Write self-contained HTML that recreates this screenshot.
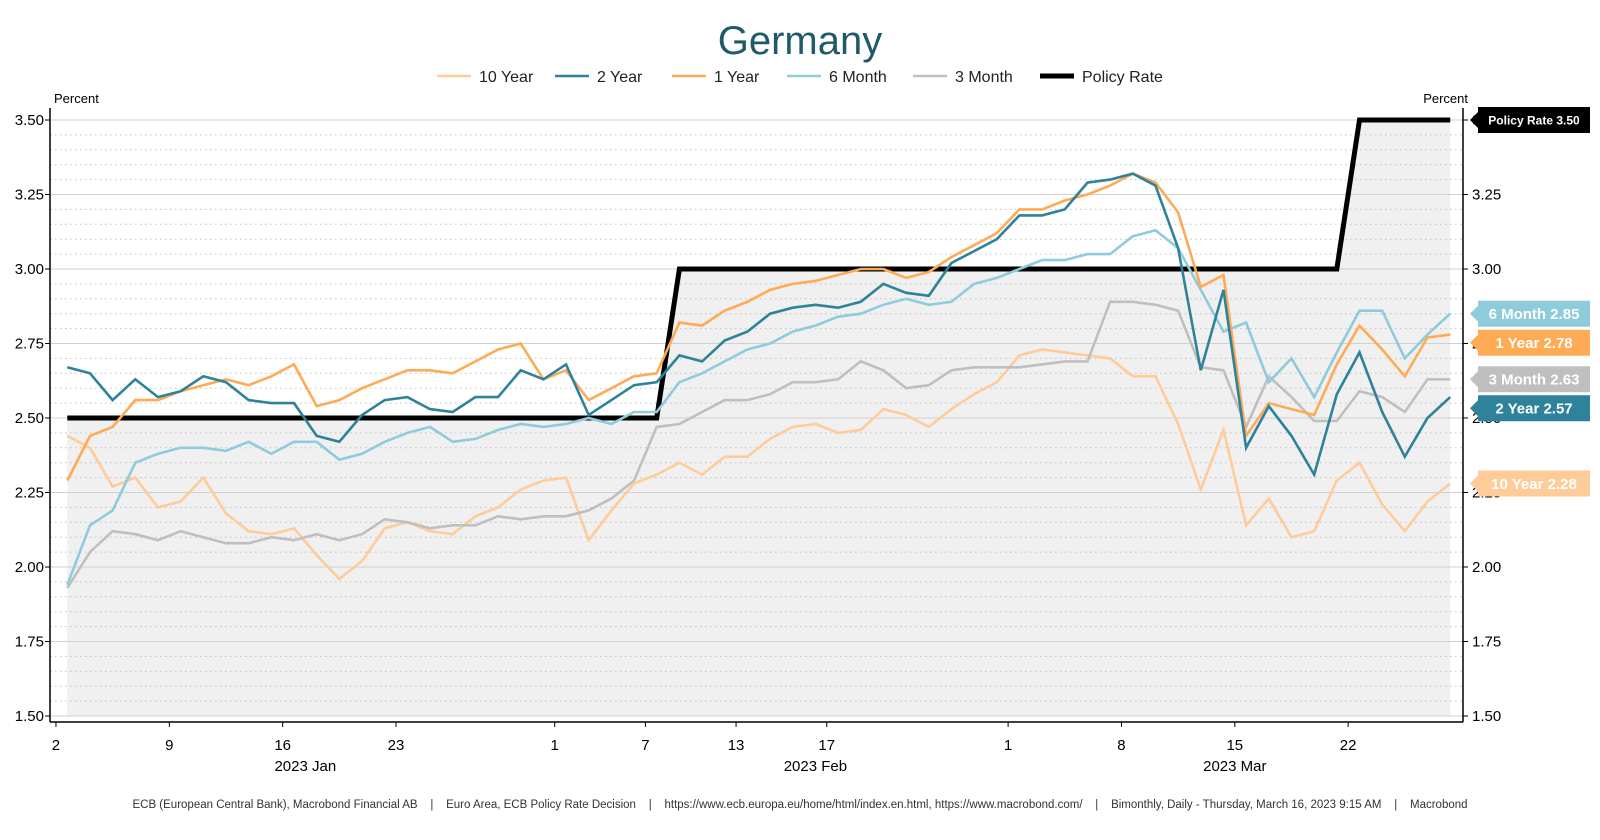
<!DOCTYPE html>
<html><head><meta charset="utf-8"><style>
html,body{margin:0;padding:0;background:#fff;}
svg{display:block;font-family:"Liberation Sans",sans-serif;}
</style></head><body>
<svg id="chart" width="1600" height="840" viewBox="0 0 1600 840" xmlns="http://www.w3.org/2000/svg">
<text x="800" y="54" text-anchor="middle" font-size="40" fill="#1f5a6b">Germany</text>
<g id="legend"></g>
<text x="54" y="103" font-size="13" fill="#000">Percent</text>
<text x="1468" y="103" font-size="13" fill="#000" text-anchor="end">Percent</text>
<g id="plot"></g>
<text x="800" y="808" text-anchor="middle" font-size="11.5" fill="#333" xml:space="preserve">ECB (European Central Bank), Macrobond Financial AB    |    Euro Area, ECB Policy Rate Decision    |    https://www.ecb.europa.eu/home/html/index.en.html, https://www.macrobond.com/    |    Bimonthly, Daily - Thursday, March 16, 2023 9:15 AM    |    Macrobond</text>
</svg>
<script>
const seriesNames = ["10 Year","2 Year","1 Year","6 Month","3 Month","Policy Rate"];
const tenYear = [2.44,2.40,2.27,2.30,2.20,2.22,2.30,2.18,2.12,2.11,2.13,2.04,1.96,2.02,2.13,2.15,2.12,2.11,2.17,2.20,2.26,2.29,2.30,2.09,2.19,2.28,2.31,2.35,2.31,2.37,2.37,2.43,2.47,2.48,2.45,2.46,2.53,2.51,2.47,2.53,2.58,2.62,2.71,2.73,2.72,2.71,2.70,2.64,2.64,2.48,2.26,2.46,2.14,2.23,2.10,2.12,2.29,2.35,2.21,2.12,2.22,2.28];
const twoYear = [2.67,2.65,2.56,2.63,2.57,2.59,2.64,2.62,2.56,2.55,2.55,2.44,2.42,2.51,2.56,2.57,2.53,2.52,2.57,2.57,2.66,2.63,2.68,2.51,2.56,2.61,2.62,2.71,2.69,2.76,2.79,2.85,2.87,2.88,2.87,2.89,2.95,2.92,2.91,3.02,3.06,3.10,3.18,3.18,3.20,3.29,3.30,3.32,3.28,3.07,2.66,2.93,2.40,2.54,2.44,2.31,2.58,2.72,2.52,2.37,2.50,2.57];
const oneYear = [2.29,2.44,2.47,2.56,2.56,2.59,2.61,2.63,2.61,2.64,2.68,2.54,2.56,2.60,2.63,2.66,2.66,2.65,2.69,2.73,2.75,2.63,2.66,2.56,2.60,2.64,2.65,2.82,2.81,2.86,2.89,2.93,2.95,2.96,2.98,3.00,3.00,2.97,2.99,3.04,3.08,3.12,3.20,3.20,3.23,3.25,3.28,3.32,3.29,3.19,2.94,2.98,2.44,2.55,2.53,2.51,2.68,2.81,2.73,2.64,2.77,2.78];
const sixMonth = [1.94,2.14,2.19,2.35,2.38,2.40,2.40,2.39,2.42,2.38,2.42,2.42,2.36,2.38,2.42,2.45,2.47,2.42,2.43,2.46,2.48,2.47,2.48,2.50,2.48,2.52,2.52,2.62,2.65,2.69,2.73,2.75,2.79,2.81,2.84,2.85,2.88,2.90,2.88,2.89,2.95,2.97,3.00,3.03,3.03,3.05,3.05,3.11,3.13,3.07,2.93,2.79,2.82,2.62,2.70,2.57,2.72,2.86,2.86,2.70,2.78,2.85];
const threeMonth = [1.93,2.05,2.12,2.11,2.09,2.12,2.10,2.08,2.08,2.10,2.09,2.11,2.09,2.11,2.16,2.15,2.13,2.14,2.14,2.17,2.16,2.17,2.17,2.19,2.23,2.29,2.47,2.48,2.52,2.56,2.56,2.58,2.62,2.62,2.63,2.69,2.66,2.60,2.61,2.66,2.67,2.67,2.67,2.68,2.69,2.69,2.89,2.89,2.88,2.86,2.67,2.66,2.47,2.64,2.57,2.49,2.49,2.59,2.57,2.52,2.63,2.63];
const policyRate = [2.50,2.50,2.50,2.50,2.50,2.50,2.50,2.50,2.50,2.50,2.50,2.50,2.50,2.50,2.50,2.50,2.50,2.50,2.50,2.50,2.50,2.50,2.50,2.50,2.50,2.50,2.50,3.00,3.00,3.00,3.00,3.00,3.00,3.00,3.00,3.00,3.00,3.00,3.00,3.00,3.00,3.00,3.00,3.00,3.00,3.00,3.00,3.00,3.00,3.00,3.00,3.00,3.00,3.00,3.00,3.00,3.00,3.50,3.50,3.50,3.50,3.50];
const yTicks = ["1.50","1.75","2.00","2.25","2.50","2.75","3.00","3.25","3.50"];
const dayLabels = ["2","9","16","23","1","7","13","17","1","8","15","22"];
const dayIndex = [0,5,10,15,22,26,30,34,42,47,52,57];
const monthLabels = ["2023 Jan","2023 Feb","2023 Mar"];
const monthCenter = [11,33.5,52];

const NS="http://www.w3.org/2000/svg";
const colors=["#ffcc99","#2e8299","#ffaa55","#8ecbdb","#bfbfbf","#000000"];
const L=50,R=1463,T=120,B=716,yMin=1.5,yMax=3.5,X0=67.3,STEP=22.67;
const yS=v=>B-(v-yMin)/(yMax-yMin)*(B-T);
const xS=i=>X0+i*STEP;
const xDay=d=>X0-STEP/2+d*STEP;
function mk(tag,attrs,parent){const e=document.createElementNS(NS,tag);for(const k in attrs)e.setAttribute(k,attrs[k]);parent.appendChild(e);return e;}
const plot=document.getElementById('plot');

// policy shading
let pts=[];
policyRate.forEach((v,i)=>pts.push(xS(i)+','+yS(v)));
const shade=mk('polygon',{points:xS(0)+','+B+' '+pts.join(' ')+' '+xS(policyRate.length-1)+','+B,fill:'#f0f0f0'},plot);


// grid
for(let v=1.5;v<=3.5001;v+=0.05){
  const major=Math.abs((v*4)-Math.round(v*4))<1e-6;
  const g=mk('line',{x1:L,x2:R,y1:yS(v),y2:yS(v),stroke:major?'#d0d0d0':'#c0c0c0','stroke-width':1,'stroke-dasharray':major?'':'1.5,3.5'},plot);
  
  
}
// axes
const la=mk('line',{x1:L,x2:L,y1:T-12,y2:B+6,stroke:'#000','stroke-width':1.5},plot);


const ra=mk('line',{x1:R,x2:R,y1:T-12,y2:B+6,stroke:'#000','stroke-width':1.5},plot);


const ba=mk('line',{x1:L,x2:R,y1:B+6,y2:B+6,stroke:'#000','stroke-width':1.5},plot);


yTicks.forEach(t=>{
  const y=yS(parseFloat(t));
  const a=mk('text',{x:L-6,y:y+5,'text-anchor':'end','font-size':15,fill:'#000'},plot);a.textContent=t;
  
  
  const b=mk('text',{x:R+9,y:y+5,'font-size':15,fill:'#000'},plot);b.textContent=t;
  
  
  mk('line',{x1:L-5,x2:L,y1:y,y2:y,stroke:'#000'},plot);
  mk('line',{x1:R,x2:R+5,y1:y,y2:y,stroke:'#000'},plot);
});
dayLabels.forEach((t,k)=>{
  const x=xDay(dayIndex[k]);
  mk('line',{x1:x,x2:x,y1:B+6,y2:B+11,stroke:'#000'},plot);
  const a=mk('text',{x:x,y:B+34,'text-anchor':'middle','font-size':15,fill:'#000'},plot);a.textContent=t;
  
  
});
monthLabels.forEach((t,k)=>{
  const a=mk('text',{x:xDay(monthCenter[k]),y:B+55,'text-anchor':'middle','font-size':15,fill:'#000'},plot);a.textContent=t;
  
  
});
// series
const allSeries=[tenYear,twoYear,oneYear,sixMonth,threeMonth,policyRate];
const slugs=['ten-year','two-year','one-year','six-month','three-month','policy-rate'];
const drawOrder=[5,0,4,3,2,1];
drawOrder.forEach(s=>{
  const d=allSeries[s].map((v,i)=>(i?'L':'M')+xS(i).toFixed(1)+','+yS(v).toFixed(1)).join(' ');
  const p=mk('path',{d:d,fill:'none',stroke:colors[s],'stroke-width':s===5?5:2.6,'stroke-linejoin':'miter'},plot);
  
  
});
// end labels
const lbl=[];
[3,2,4,1,0].forEach(s=>{const v=allSeries[s][allSeries[s].length-1];lbl.push({s:s,v:v,y:yS(v)});});
lbl.sort((a,b)=>a.y-b.y);
for(let k=1;k<lbl.length;k++){if(lbl[k].y-lbl[k-1].y<29)lbl[k].y=lbl[k-1].y+29;}
function endLabel(text,y,color,w,fs,slug){
  const g=mk('g',{},plot);
  
  
  const x=R+7;
  mk('path',{d:`M${x},${y} L${x+8},${y-8} L${x+8},${y-13} L${x+w},${y-13} L${x+w},${y+13} L${x+8},${y+13} L${x+8},${y+8} Z`,fill:color},g);
  const t=mk('text',{x:x+8+(w-8)/2,y:y+fs*0.36,'text-anchor':'middle','font-size':fs,'font-weight':'bold',fill:'#fff'},g);
  t.textContent=text;
}
lbl.forEach(o=>endLabel(seriesNames[o.s]+'  '+o.v.toFixed(2),o.y,colors[o.s],120,15,slugs[o.s]+'-end-label'));
endLabel('Policy Rate  '+policyRate[policyRate.length-1].toFixed(2),yS(policyRate[policyRate.length-1]),'#000',120,12,'policy-rate-end-label');
// legend
const leg=document.getElementById('legend');
const legX=[437,555,672,787,913,1040];
seriesNames.forEach((n,i)=>{
  const g=mk('g',{},leg);
  
  
  mk('line',{x1:legX[i],x2:legX[i]+34,y1:76,y2:76,stroke:colors[i],'stroke-width':i===5?5:2.6},g);
  const t=mk('text',{x:legX[i]+42,y:82,'font-size':16,fill:'#222'},g);t.textContent=n;
});
</script>
</body></html>
